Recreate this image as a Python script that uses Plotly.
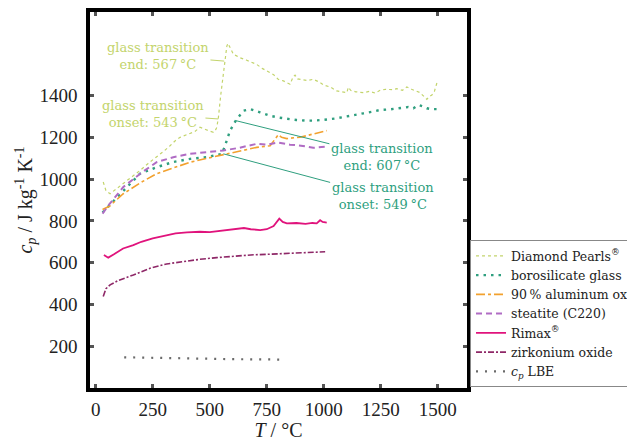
import plotly.graph_objects as go

# ---------------- data ----------------
dp_T = [33, 45, 63, 85, 121, 160, 194, 230, 267, 300, 326, 350, 370, 395, 414, 435, 457, 475, 487, 500, 516, 524, 531, 538, 548, 560, 567, 575, 580, 588, 596, 604, 618, 633, 660, 685, 706, 730, 750, 765, 780, 800, 823, 852, 866, 874, 885, 905, 930, 954, 980, 1000, 1030, 1057, 1080, 1101, 1108, 1118, 1140, 1174, 1200, 1225, 1247, 1270, 1300, 1320, 1345, 1364, 1385, 1405, 1422, 1440, 1452, 1462, 1474, 1485, 1496]
dp_cp = [986, 945, 930, 948, 978, 1010, 1041, 1075, 1105, 1135, 1160, 1185, 1200, 1210, 1216, 1228, 1248, 1240, 1232, 1230, 1224, 1232, 1248, 1295, 1400, 1500, 1565, 1637, 1650, 1630, 1610, 1597, 1590, 1581, 1570, 1560, 1549, 1530, 1520, 1509, 1500, 1478, 1470, 1454, 1490, 1498, 1480, 1475, 1472, 1478, 1465, 1450, 1440, 1422, 1418, 1414, 1440, 1425, 1418, 1414, 1420, 1412, 1425, 1430, 1428, 1433, 1425, 1441, 1430, 1420, 1414, 1395, 1382, 1395, 1403, 1420, 1460]

bs_T = [30, 60, 121, 194, 267, 340, 414, 487, 553, 567, 589, 614, 647, 677, 720, 765, 800, 838, 880, 920, 954, 1000, 1050, 1101, 1140, 1174, 1210, 1247, 1290, 1330, 1370, 1393, 1415, 1435, 1452, 1470, 1488, 1500]
bs_cp = [840, 875, 946, 1026, 1057, 1082, 1097, 1105, 1121, 1160, 1232, 1280, 1327, 1335, 1320, 1303, 1295, 1288, 1283, 1280, 1280, 1284, 1290, 1300, 1310, 1315, 1322, 1331, 1334, 1338, 1345, 1339, 1355, 1348, 1339, 1335, 1333, 1335]

al_T = [30, 60, 121, 200, 267, 340, 414, 490, 560, 630, 706, 765, 785, 801, 815, 838, 870, 896, 950, 1013]
al_cp = [855, 870, 930, 985, 1026, 1055, 1081, 1100, 1118, 1135, 1152, 1160, 1190, 1213, 1200, 1194, 1198, 1200, 1215, 1232]

st_T = [30, 60, 121, 200, 267, 340, 414, 490, 560, 630, 706, 750, 800, 852, 900, 954, 1013]
st_cp = [835, 880, 962, 1030, 1081, 1105, 1121, 1130, 1137, 1150, 1169, 1165, 1175, 1165, 1160, 1150, 1156]

ri_T = [36, 55, 80, 120, 165, 200, 250, 311, 350, 400, 457, 500, 550, 604, 650, 680, 721, 750, 780, 805, 820, 838, 880, 920, 950, 969, 984, 995, 1013]
ri_cp = [637, 624, 640, 668, 684, 700, 716, 732, 740, 745, 748, 746, 752, 759, 766, 760, 756, 760, 775, 811, 795, 788, 790, 786, 790, 788, 803, 795, 792]

zr_T = [33, 45, 63, 100, 165, 238, 311, 380, 457, 530, 604, 680, 750, 820, 896, 950, 1006]
zr_cp = [438, 475, 494, 515, 541, 573, 594, 606, 616, 624, 632, 637, 640, 644, 648, 651, 652]

lbe_T = [125, 200, 300, 400, 500, 600, 700, 830]
lbe_cp = [147, 145, 143, 141, 140, 138, 137, 136]

names = ["Diamond Pearls<sup>®</sup>", "borosilicate glass", "90\u2009% aluminum oxide",
         "steatite (C220)", "Rimax<sup>®</sup>", "zirkonium oxide", "<i>c</i><sub><i>p</i></sub> LBE"]

x_ticks = [0, 250, 500, 750, 1000, 1250, 1500]
y_ticks = [200, 400, 600, 800, 1000, 1200, 1400]

# annotations: (curve point T, cp, text T, text cp, text, colour)
ann_pt_T = [563, 537, 614, 560]
ann_pt_cp = [1565, 1288, 1280, 1121]
ann_tx_T = [273, 251, 1255, 1258]
ann_tx_cp = [1591, 1310, 1107, 917]
ann_text = ["glass transition<br>end: 567\u2009°C", "glass transition<br>onset: 543\u2009°C",
            "glass transition<br>end: 607\u2009°C", "glass transition<br>onset: 549\u2009°C"]

C_DP = "#c3d46c"
C_BS = "#2f9f7f"
C_AL = "#f2a12e"
C_ST = "#b06cc4"
C_RI = "#e0137c"
C_ZR = "#8e2767"
C_LB = "#6a6a6a"
ann_col = [C_DP, C_DP, C_BS, C_BS]

FONT = "Liberation Serif"
FONT2 = "DejaVu Serif"

fig = go.Figure()
series = [
    (dp_T, dp_cp, C_DP, 1.2, "dot"),
    (bs_T, bs_cp, C_BS, 2.4, "2.5px,5px"),
    (al_T, al_cp, C_AL, 1.6, "dashdot"),
    (st_T, st_cp, C_ST, 2.0, "6px,4px"),
    (ri_T, ri_cp, C_RI, 1.8, "solid"),
    (zr_T, zr_cp, C_ZR, 1.6, "6px,2px,2px,2px"),
    (lbe_T, lbe_cp, C_LB, 2.2, "2px,7px"),
]
for (xs, ys, col, w, dash), nm in zip(series, names):
    fig.add_trace(go.Scatter(x=xs, y=ys, mode="lines", name=nm,
                             line=dict(color=col, width=w, dash=dash)))

for i in range(len(ann_text)):
    fig.add_annotation(x=ann_pt_T[i], y=ann_pt_cp[i], ax=ann_tx_T[i], ay=ann_tx_cp[i],
                       axref="x", ayref="y", xref="x", yref="y",
                       text=ann_text[i], showarrow=True, arrowhead=0, arrowwidth=1,
                       arrowcolor=ann_col[i], align="center",
                       font=dict(family=FONT2, size=13, color=ann_col[i]))

axis_common = dict(showgrid=False, zeroline=False, showline=True, linecolor="black",
                   linewidth=3.5, mirror="ticks", ticks="inside", ticklen=4, tickwidth=3,
                   tickcolor="#555555", tickfont=dict(family=FONT, size=19, color="#222"))

fig.update_xaxes(range=[-25, 1628], tickvals=x_ticks, ticktext=[str(v) for v in x_ticks],
                 title=dict(text="<i>T</i> / °C", font=dict(family=FONT, size=20, color="#222"), standoff=2),
                 ticklabelstandoff=1, **axis_common)
fig.update_yaxes(range=[0, 1800], tickvals=y_ticks, ticktext=[str(v) for v in y_ticks],
                 title=dict(text="<i>c</i><sub><i>p</i></sub> / J kg<sup>-1</sup> K<sup>-1</sup>",
                            font=dict(family=FONT, size=20, color="#222"), standoff=0),
                 ticklabelstandoff=5, **axis_common)

# page body has an 8px margin, so the figure is drawn 8px in from the window corner
fig.update_layout(
    width=627, height=433,
    margin=dict(l=82, r=168, t=4, b=53, autoexpand=False),
    paper_bgcolor="white", plot_bgcolor="white",
    font=dict(family=FONT, color="#222"),
    legend=dict(x=1.008, y=0.002, xanchor="left", yanchor="bottom",
                bordercolor="#888888", borderwidth=1, bgcolor="white",
                font=dict(family=FONT2, size=12.5, color="#222"),
                itemwidth=30, tracegroupgap=0),
    showlegend=True,
)

fig.write_html("out.html")
